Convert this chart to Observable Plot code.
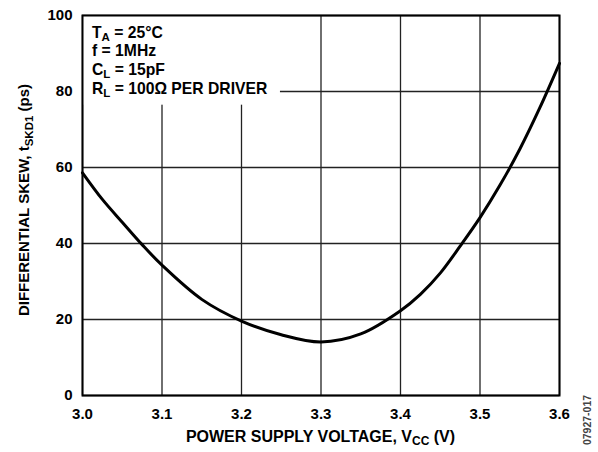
<!DOCTYPE html>
<html>
<head>
<meta charset="utf-8">
<script src="https://cdn.jsdelivr.net/npm/d3@7"></script>
<script src="https://cdn.jsdelivr.net/npm/@observablehq/plot@0.6"></script>
<style>
  html, body { margin: 0; padding: 0; background: #fff; }
  #chart { width: 598px; height: 452px; }
</style>
</head>
<body>
<div id="chart"></div>
<script>
// ---- data ----
const vcc  = [3.0, 3.025, 3.05, 3.075, 3.1, 3.15, 3.2, 3.25, 3.3, 3.35, 3.4, 3.425, 3.45, 3.475, 3.5, 3.525, 3.55, 3.575, 3.6];
const skew = [58.6, 51.6, 45.6, 39.7, 34.3, 25.3, 19.6, 16.0, 14.1, 16.2, 22.3, 26.6, 32.2, 39.3, 46.8, 55.3, 64.8, 75.6, 87.4];
const xTicks = [3.0, 3.1, 3.2, 3.3, 3.4, 3.5, 3.6];
const yTicks = [0, 20, 40, 60, 80, 100];
const xDomain = [3.0, 3.6];
const yDomain = [0, 100];
// legend box (covers grid under the conditions text), data coordinates
const boxX = [3.0, 3.249];
const boxY = [76.4, 100];
const conditions = [
  ["T", "A", " = 25°C"],
  ["f = 1MHz", "", ""],
  ["C", "L", " = 15pF"],
  ["R", "L", " = 100Ω PER DRIVER"]
];
const xTitle = ["POWER SUPPLY VOLTAGE, V", "CC", " (V)"];
const yTitle = ["DIFFERENTIAL SKEW, t", "SKD1", " (ps)"];
const figId = "07927-017";

(function () {
const data = vcc.map((v, i) => ({v, s: skew[i]}));
const FONT = "'Liberation Sans', Arial, Helvetica, sans-serif";

const plot = Plot.plot({
  width: 598,
  height: 452,
  marginLeft: 82,
  marginRight: 39,
  marginTop: 15,
  marginBottom: 57,
  style: {fontFamily: FONT, fontSize: "15px", fontWeight: "bold", color: "#000", background: "#fff"},
  x: {domain: xDomain, label: null},
  y: {domain: yDomain, label: null},
  marks: [
    Plot.gridX(xTicks, {stroke: "#222", strokeOpacity: 1, strokeWidth: 1.3}),
    Plot.gridY(yTicks, {stroke: "#222", strokeOpacity: 1, strokeWidth: 1.3}),
    Plot.rect([{x1: boxX[0], x2: boxX[1], y1: boxY[0], y2: boxY[1]}], {x1: "x1", x2: "x2", y1: "y1", y2: "y2", fill: "#fff", inset: 0}),
    Plot.line(data, {x: "v", y: "s", stroke: "#000", strokeWidth: 3, curve: "catmull-rom"}),
    Plot.frame({stroke: "#000", strokeWidth: 2}),
    Plot.axisX(xTicks, {tickSize: 0, tickPadding: 13, tickFormat: d3.format(".1f"), label: null, fontSize: 15, fontWeight: "bold"}),
    Plot.axisY(yTicks, {tickSize: 0, tickPadding: 10, label: null, fontSize: 15, fontWeight: "bold"})
  ]
});

document.getElementById("chart").appendChild(plot);

const svg = d3.select(plot);
const xs = plot.scale("x"), ys = plot.scale("y");
const pLeft = xs.apply(xDomain[0]), pRight = xs.apply(xDomain[1]);
const pTop = ys.apply(yDomain[1]), pBottom = ys.apply(yDomain[0]);

function richText(g, parts, size, subSize, subShift) {
  g.append("tspan").text(parts[0]);
  if (parts[1]) g.append("tspan").attr("font-size", subSize).attr("dy", subShift).text(parts[1]);
  if (parts[2]) g.append("tspan").attr("font-size", size).attr("dy", parts[1] ? -subShift : 0).text(parts[2]);
}

// conditions text
conditions.forEach((parts, i) => {
  const t = svg.append("text")
    .attr("x", pLeft + 10)
    .attr("y", pTop + 22.5 + i * 18.8)
    .attr("text-anchor", "start")
    .attr("font-family", FONT).attr("font-weight", "bold").attr("font-size", 15.7)
    .attr("fill", "#000");
  richText(t, parts, 15.7, 11.5, 3);
});

// x title
const xt = svg.append("text")
  .attr("x", (pLeft + pRight) / 2)
  .attr("y", pBottom + 46.5)
  .attr("text-anchor", "middle")
  .attr("font-family", FONT).attr("font-weight", "bold").attr("font-size", 16)
  .attr("fill", "#000");
richText(xt, xTitle, 16, 12, 3.5);

// y title
const yt = svg.append("text")
  .attr("transform", `translate(29,${(pTop + pBottom) / 2 - 5}) rotate(-90)`)
  .attr("text-anchor", "middle")
  .attr("font-family", FONT).attr("font-weight", "bold").attr("font-size", 15)
  .attr("fill", "#000");
richText(yt, yTitle, 15, 11.5, 3.5);

// figure id
svg.append("text")
  .attr("transform", `translate(591,420) rotate(-90)`)
  .attr("text-anchor", "middle")
  .attr("font-family", FONT).attr("font-size", 10.5)
  .attr("fill", "#444")
  .text(figId);
})();
</script>
</body>
</html>
